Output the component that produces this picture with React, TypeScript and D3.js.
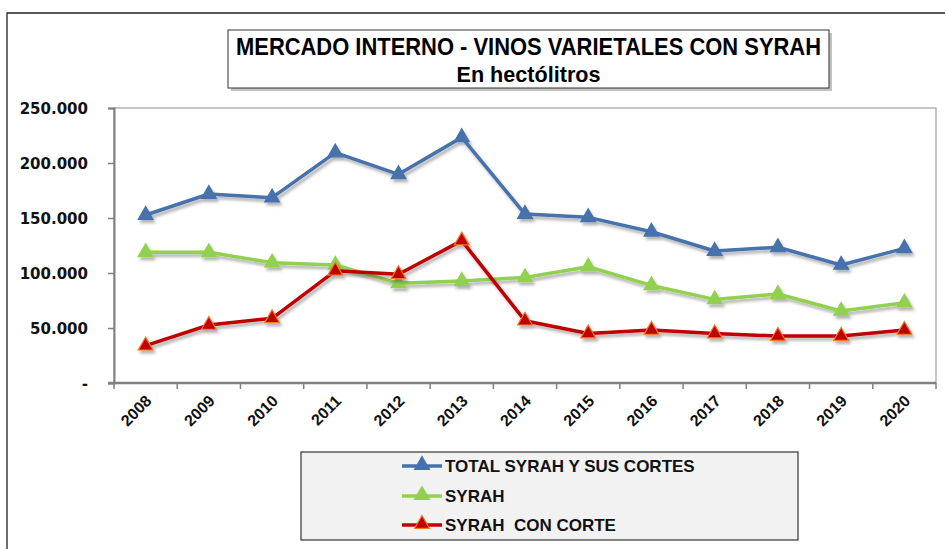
import React, { useEffect, useRef } from 'react'
import * as d3 from 'd3'

const years = ['2008', '2009', '2010', '2011', '2012', '2013', '2014', '2015', '2016', '2017', '2018', '2019', '2020']
const totalSyrah = [152700, 171800, 168500, 209500, 189700, 223300, 153600, 150600, 137500, 120000, 123400, 107300, 122400]
const syrah = [118800, 118800, 109400, 107300, 90600, 92700, 96000, 105700, 88700, 76000, 80900, 65500, 73000]
const syrahConCorte = [33900, 52700, 58800, 102000, 98800, 129400, 56600, 45000, 48200, 45000, 42700, 42700, 48200]
const yTicks = [0, 50000, 100000, 150000, 200000, 250000]

const seriesList = [
  { name: 'TOTAL SYRAH Y SUS CORTES', values: totalSyrah, color: '#4672ac', marker: '#4672ac', markerStroke: '#4672ac' },
  { name: 'SYRAH', values: syrah, color: '#92d050', marker: '#92d050', markerStroke: '#92d050' },
  { name: 'SYRAH  CON CORTE', values: syrahConCorte, color: '#c00000', marker: '#c00000', markerStroke: '#f07a20' },
]

const W = 946
const H = 549

export default function App() {
  const ref = useRef<SVGSVGElement>(null)

  useEffect(() => {
    const svg = d3.select(ref.current)
    svg.selectAll('*').remove()

    const left = 114, right = 936, top = 108, bottom = 383

    const defs = svg.append('defs')
    const f = defs.append('filter').attr('id', 'shadow').attr('x', '-10%').attr('y', '-10%').attr('width', '120%').attr('height', '130%')
    f.append('feDropShadow').attr('dx', 2).attr('dy', 3).attr('stdDeviation', 1.6)
      .attr('flood-color', '#000').attr('flood-opacity', 0.3)

    // outer frame (top + left)
    svg.append('path').attr('d', `M7,549 L7,13 L945,13`).attr('fill', 'none')
      .attr('stroke', '#222').attr('stroke-width', 1.3)

    // title box
    svg.append('rect').attr('x', 231).attr('y', 33).attr('width', 601).attr('height', 58).attr('fill', '#999').attr('opacity', 0.6)
    svg.append('rect').attr('x', 228).attr('y', 30).attr('width', 601).attr('height', 58)
      .attr('fill', '#fff').attr('stroke', '#333').attr('stroke-width', 1)
    svg.append('text').attr('x', 528.5).attr('y', 54.5).attr('text-anchor', 'middle')
      .attr('font-family', 'Liberation Sans, Arial, sans-serif').attr('font-weight', 'bold').attr('font-size', 23)
      .attr('textLength', 585).attr('lengthAdjust', 'spacingAndGlyphs')
      .text('MERCADO INTERNO - VINOS VARIETALES CON SYRAH')
    svg.append('text').attr('x', 528.5).attr('y', 81.5).attr('text-anchor', 'middle')
      .attr('font-family', 'Liberation Sans, Arial, sans-serif').attr('font-weight', 'bold').attr('font-size', 22)
      .attr('textLength', 144).attr('lengthAdjust', 'spacingAndGlyphs')
      .text('En hectólitros')

    const x = d3.scaleBand().domain(years).range([left, right]).padding(0)
    const y = d3.scaleLinear().domain([0, 250000]).range([bottom, top])
    const cx = (d: string) => (x(d) as number) + x.bandwidth() / 2

    // plot border
    svg.append('rect').attr('x', left).attr('y', top).attr('width', right - left).attr('height', bottom - top)
      .attr('fill', 'none').attr('stroke', '#8c8c8c').attr('stroke-width', 1)

    // y axis
    const yAxis = svg.append('g').attr('transform', `translate(${left},0)`)
      .call(d3.axisLeft(y).tickValues(yTicks).tickSize(6).tickPadding(20)
        .tickFormat(d => (+d === 0 ? '-' : d3.format(',')(+d).replace(/,/g, '.'))))
    yAxis.select('.domain').attr('stroke', '#808080').attr('stroke-width', 2)
    yAxis.selectAll('.tick line').attr('stroke', '#808080').attr('stroke-width', 1.5)
    yAxis.selectAll('.tick text').attr('font-family', 'DejaVu Sans, Verdana, sans-serif')
      .attr('font-weight', 'bold').attr('font-size', 15).attr('fill', '#111').attr('dy', '0.35em')

    // x axis
    svg.append('line').attr('x1', left - 6).attr('x2', right).attr('y1', bottom).attr('y2', bottom)
      .attr('stroke', '#808080').attr('stroke-width', 2.5)
    const bounds = [...years.map(d => x(d) as number), right]
    svg.append('g').selectAll('line').data(bounds).enter().append('line')
      .attr('x1', d => d).attr('x2', d => d).attr('y1', bottom).attr('y2', bottom + 6)
      .attr('stroke', '#808080').attr('stroke-width', 1.5)
    svg.append('g').selectAll('text').data(years).enter().append('text')
      .attr('transform', d => `translate(${cx(d) + 7},${402}) rotate(-45)`)
      .attr('text-anchor', 'end')
      .attr('font-family', 'Liberation Sans, Arial, sans-serif').attr('font-weight', 'bold').attr('font-size', 16)
      .attr('fill', '#111')
      .text(d => d)

    const tri = d3.symbol().type(d3.symbolTriangle).size(95)

    seriesList.forEach(s => {
      const line = d3.line<number>().x((_, i) => cx(years[i])).y(v => y(v))
      const g = svg.append('g').attr('filter', 'url(#shadow)')
      g.append('path').datum(s.values).attr('d', line).attr('fill', 'none')
        .attr('stroke', s.color).attr('stroke-width', 3.5).attr('stroke-linejoin', 'round')
      g.selectAll('path.m').data(s.values).enter().append('path').attr('class', 'm')
        .attr('d', tri).attr('transform', (v, i) => `translate(${cx(years[i])},${y(v)})`)
        .attr('fill', s.marker).attr('stroke', s.markerStroke).attr('stroke-width', 1.2)
    })

    // legend
    svg.append('rect').attr('x', 301).attr('y', 452).attr('width', 497).attr('height', 88)
      .attr('fill', '#f2f2f2').attr('stroke', '#333').attr('stroke-width', 1.2)
    const rows = [466, 496, 525]
    seriesList.forEach((s, i) => {
      const ly = rows[i]
      const lg = svg.append('g')
      lg.append('line').attr('x1', 402).attr('x2', 442).attr('y1', ly).attr('y2', ly)
        .attr('stroke', s.color).attr('stroke-width', 3.5)
      lg.append('path').attr('d', tri).attr('transform', `translate(422,${ly - 1})`)
        .attr('fill', s.marker).attr('stroke', s.markerStroke).attr('stroke-width', 1.2)
      lg.append('text').attr('x', 445).attr('y', ly + 6)
        .attr('font-family', 'Liberation Sans, Arial, sans-serif').attr('font-weight', 'bold').attr('font-size', 17)
        .attr('fill', '#111').style('white-space', 'pre').text(s.name)
    })
  }, [])

  return (
    <svg ref={ref} width={W} height={H} style={{ position: 'absolute', left: 0, top: 0, background: '#fff' }} />
  )
}
